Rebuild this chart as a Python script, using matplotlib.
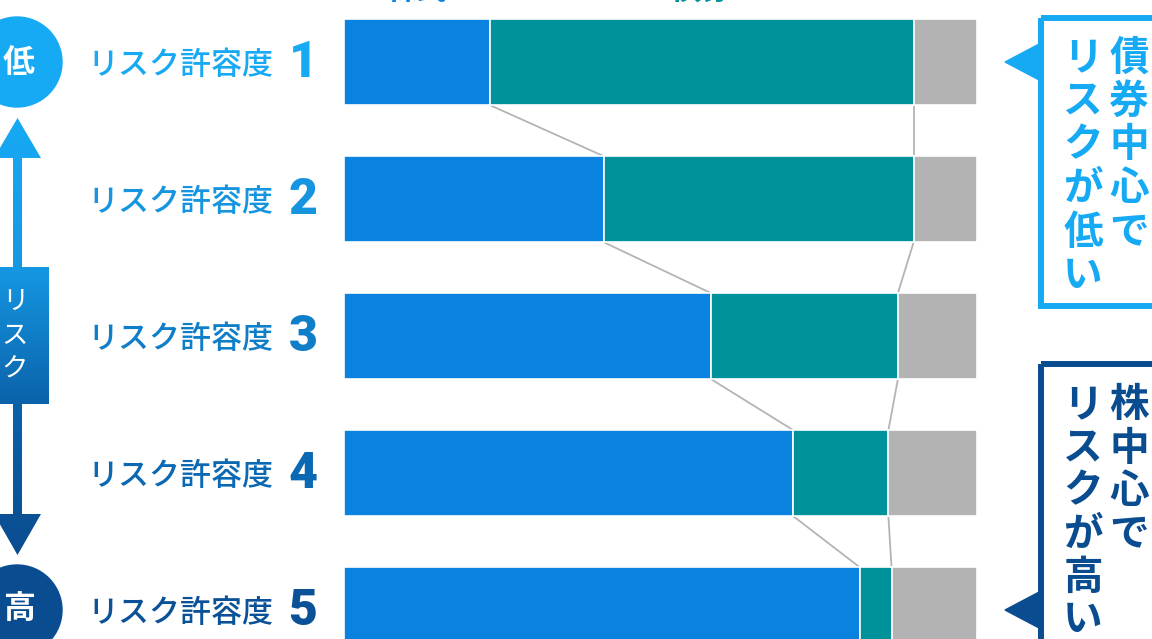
import numpy as np
import matplotlib
matplotlib.use("Agg")
import matplotlib.pyplot as plt
from matplotlib.patches import Circle, Polygon, Rectangle, PathPatch
from matplotlib.path import Path
from matplotlib.colors import LinearSegmentedColormap
import matplotlib.transforms as mtransforms

plt.rcParams['font.family'] = ['Noto Sans CJK JP', 'DejaVu Sans']

# データ(%)
levels = ["1", "2", "3", "4", "5"]
stock = [23, 41, 58, 71, 81.5]
bond = [67, 49, 29.5, 15, 5]
other = [10, 10, 12.5, 14, 13.5]
seg_names = ["株式", "債券"]

row_label = "リスク許容度"
row_colors = ["#17a9f3", "#1594e0", "#0f7ec9", "#0b68b2", "#0a5197"]
c_stock, c_bond, c_other = "#0a83e0", "#00929b", "#b3b3b3"
c_light, c_dark = "#17aaf4", "#0a4c90"

W, H = 1152, 639
fig = plt.figure(figsize=(W / 100, H / 100), dpi=100)

# 棒グラフ本体 (x: 344..977px)
pitch = 137.1
ax = fig.add_axes([344 / W, 0, (977 - 344) / W, 1])
ax.set_xlim(0, 100)
ax.set_ylim((H - 62) / pitch, -62 / pitch)
ax.axis("off")

y = np.arange(len(levels))
h = 86 / pitch
left2 = np.array(stock)
left3 = left2 + np.array(bond)
ax.barh(y, stock, height=h, color=c_stock, edgecolor="white", linewidth=1.2)
ax.barh(y, bond, left=left2, height=h, color=c_bond, edgecolor="white", linewidth=1.2)
ax.barh(y, other, left=left3, height=h, color=c_other, edgecolor="white", linewidth=1.2)

# 境界をつなぐ線
for i in range(len(levels) - 1):
    for b in (left2, left3):
        ax.plot([b[i], b[i + 1]], [i + h / 2, i + 1 - h / 2],
                color="#b4b4b4", lw=1.3, zorder=0, solid_capstyle="butt")

# 行ラベル
ytr = ax.get_yaxis_transform()
for i, lv in enumerate(levels):
    ax.text(-0.112, i + 0.02, row_label, transform=ytr, ha="right", va="center",
            fontsize=22.3, fontweight="medium", color=row_colors[i], clip_on=False)
    ax.text(-0.042, i + 0.01, lv, transform=ytr, ha="right", va="center",
            fontsize=36, fontweight=900, family="Roboto",
            color=row_colors[i], clip_on=False)

# 装飾用(ピクセル座標)
deco = fig.add_axes([0, 0, 1, 1], facecolor="none")
deco.set_xlim(0, W)
deco.set_ylim(H, 0)
deco.axis("off")

# 上端で切れている凡例
top_tr = mtransforms.blended_transform_factory(ax.transData, deco.transData)
ax.text(stock[0] / 2, -1, seg_names[0], transform=top_tr, ha="center", va="baseline",
        fontsize=22, fontweight="bold", color=c_stock, clip_on=False)
ax.text(stock[0] + bond[0] / 2, -1, seg_names[1], transform=top_tr, ha="center",
        va="baseline", fontsize=22, fontweight="bold", color=c_bond, clip_on=False)

# 左側の矢印(グラデーション)
verts = [(17.5, 118), (41, 158), (22, 158), (22, 267), (49, 267), (49, 404),
         (22, 404), (22, 514), (41, 514), (17.5, 555), (-6, 514), (13, 514),
         (13, 404), (-15, 404), (-15, 267), (13, 267), (13, 158), (-6, 158), (17.5, 118)]
codes = [Path.MOVETO] + [Path.LINETO] * (len(verts) - 2) + [Path.CLOSEPOLY]
arrow = PathPatch(Path(verts, codes), facecolor="none", edgecolor="none",
                  transform=deco.transData)
deco.add_patch(arrow)
cmap = LinearSegmentedColormap.from_list(
    "grad", [(0, c_light), (0.34, "#1598e4"), (0.654, "#0b62aa"), (1, c_dark)])
grad = np.linspace(0, 1, 256).reshape(-1, 1)
im = deco.imshow(grad, cmap=cmap, extent=(-20, 60, 555, 118), aspect="auto",
                 origin="upper", zorder=2)
im.set_clip_path(arrow)
deco.set_xlim(0, W)
deco.set_ylim(H, 0)
for k, ch in enumerate("リスク"):
    deco.text(15, 301 + 34 * k, ch, ha="center", va="center", fontsize=19,
              color="white", zorder=3)

deco.add_patch(Circle((17, 62), 45, color=c_light, zorder=2))
deco.add_patch(Circle((17, 610), 45, color=c_dark, zorder=2))
deco.text(19, 63, "低", ha="center", va="center", fontsize=23, fontweight="bold",
          color="white", zorder=3)
deco.text(19, 610, "高", ha="center", va="center", fontsize=23, fontweight="bold",
          color="white", zorder=3)

# 右側の吹き出し
callouts = [
    (c_light, 18, 306, 62, ["債券中心で", "リスクが低い"], 58, 43.5),
    (c_dark, 364, 720, 610, ["株中心で", "リスクが高い"], 405, 43),
]
for col, top, bot, tip_y, cols_txt, y0, step in callouts:
    deco.add_patch(Rectangle((1041, top), 200, bot - top, fill=False,
                             edgecolor=col, lw=4.3, zorder=2))
    deco.add_patch(Polygon([(1005, tip_y), (1041, tip_y - 19), (1041, tip_y + 19)],
                           closed=True, color=col, zorder=2))
    for cx, txt in zip((1129, 1083), cols_txt):
        for k, ch in enumerate(txt):
            deco.text(cx, y0 + step * k, ch, ha="center", va="center", fontsize=28.5,
                      fontweight="bold", color=col, zorder=3)

fig.savefig("out.png", dpi=100)
